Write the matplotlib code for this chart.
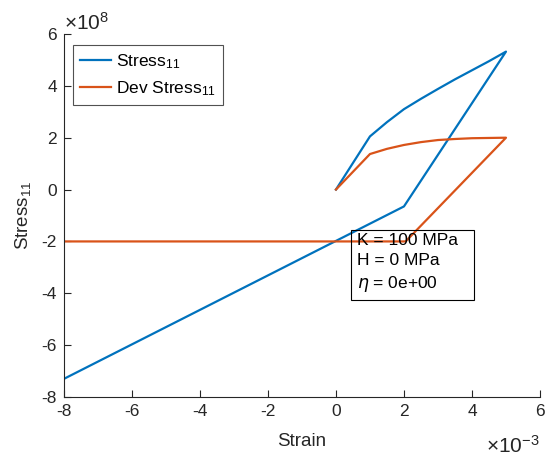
import matplotlib.pyplot as plt
from matplotlib.ticker import FuncFormatter

plt.rcParams['font.family'] = 'Liberation Sans'
plt.rcParams['mathtext.default'] = 'regular'

# Data (strain in 1e-3, stress in 1e8)
strain_total = [0, 1, 1.5, 2, 2.5, 3, 3.5, 4, 4.5, 5, 2, -8]
stress_total = [0, 2.05, 2.6, 3.1, 3.5, 3.88, 4.25, 4.6, 4.95, 5.32, -0.65, -7.3]
strain_dev = [0, 1, 1.5, 2, 2.5, 3, 3.5, 4, 4.5, 5, 2.05, -8]
stress_dev = [0, 1.37, 1.57, 1.72, 1.83, 1.91, 1.95, 1.98, 1.99, 2.0, -2.0, -2.0]

x_ticks = [-8, -6, -4, -2, 0, 2, 4, 6]
y_ticks = [-8, -6, -4, -2, 0, 2, 4, 6]

xs = 1e-3
ys = 1e8
axcol = '#262626'

fig = plt.figure(figsize=(5.46, 4.59), dpi=100)
ax = fig.add_axes([0.117, 0.135, 0.872, 0.791])

ax.plot([v * xs for v in strain_total], [v * ys for v in stress_total],
        color='#0072BD', lw=1.6, label='Stress$_{11}$')
ax.plot([v * xs for v in strain_dev], [v * ys for v in stress_dev],
        color='#D95319', lw=1.6, label='Dev Stress$_{11}$')

ax.set_xlim(-8 * xs, 6 * xs)
ax.set_ylim(-8 * ys, 6 * ys)
ax.set_xticks([t * xs for t in x_ticks])
ax.set_yticks([t * ys for t in y_ticks])
ax.xaxis.set_major_formatter(FuncFormatter(lambda v, p: f'{v / xs:.0f}'))
ax.yaxis.set_major_formatter(FuncFormatter(lambda v, p: f'{v / ys:.0f}'))

for s in ['top', 'right']:
    ax.spines[s].set_visible(False)
for s in ['left', 'bottom']:
    ax.spines[s].set_color(axcol)
    ax.spines[s].set_linewidth(0.8)
ax.tick_params(direction='in', length=5, width=0.8, colors=axcol,
               labelsize=12.5, pad=5)

ax.set_xlabel('Strain', fontsize=13.5, color=axcol, labelpad=10)
ax.set_ylabel('Stress$_{11}$', fontsize=13.5, color=axcol, labelpad=6)

# exponent labels, MATLAB style
ax.text(0.0, 1.0, r'$\times10^{8}$', transform=ax.transAxes, fontsize=15,
        color=axcol, ha='left', va='bottom')
ax.text(1.0, -0.105, r'$\times10^{-3}$', transform=ax.transAxes, fontsize=15,
        color=axcol, ha='right', va='top')

leg = ax.legend(loc='upper left', bbox_to_anchor=(0.02, 0.97), fontsize=12.5,
                frameon=True, fancybox=False, edgecolor=axcol,
                handlelength=1.75, handletextpad=0.3, borderpad=0.4,
                labelspacing=0.5, borderaxespad=0)
leg.get_frame().set_linewidth(0.8)

ax.text(0.62 * xs, -1.66 * ys,
        'K = 100 MPa  \nH = 0 MPa\n$\\mathit{\\eta}$ = 0e+00',
        fontsize=12.5, color='black', ha='left', va='top', linespacing=1.45,
        bbox=dict(boxstyle='square,pad=0.35', facecolor='none',
                  edgecolor='black', linewidth=0.8))

plt.savefig('out.png', dpi=100)
